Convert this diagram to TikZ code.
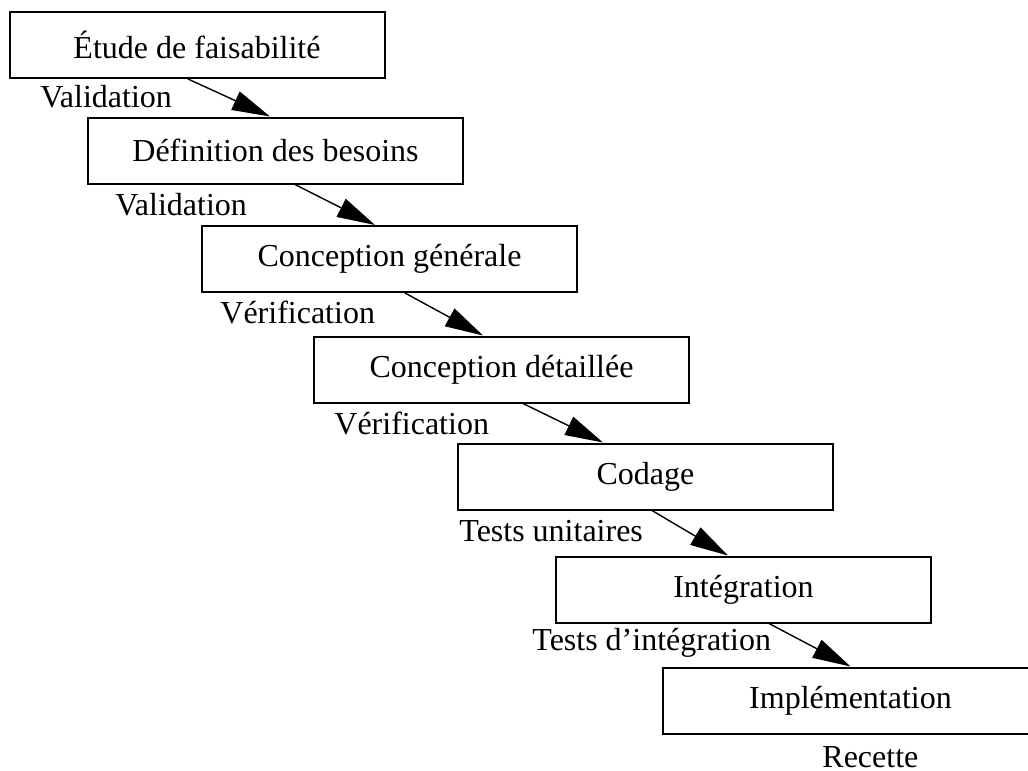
\documentclass[tikz,border=0pt]{standalone}
\usepackage{fontspec}
\setmainfont{Liberation Serif}
\usetikzlibrary{arrows.meta,calc}

\begin{document}
\begin{tikzpicture}[x=0.5pt,y=-0.5pt,
  phase/.style={draw=black,line width=1pt,rectangle,minimum width=187.5pt,
    minimum height=33pt,inner sep=0pt,font=\fontsize{16}{19}\selectfont},
  gate/.style={anchor=base west,inner sep=0pt,font=\fontsize{16}{19}\selectfont},
  flow/.style={line width=0.7pt,-{Triangle[length=19pt,width=10pt]}}]

  \clip (0,0) rectangle (1028,771);

  % phases of the waterfall
  \node[phase] (e1) at (197,45)    {Étude de faisabilité};
  \node[phase] (e2) at (275.5,150.5) {Définition des besoins};
  \node[phase] (e3) at (389.5,259)   {Conception générale};
  \node[phase] (e4) at (501.5,369.5) {Conception détaillée};
  \node[phase] (e5) at (645.5,476.5) {Codage};
  \node[phase] (e6) at (743.5,589.5) {Intégration};
  \node[phase] (e7) at (850.5,700.5) {Implémentation};

  % checks closing each phase
  \node[gate] (l1) at (40,107)  {Validation};
  \node[gate] (l2) at (115,215) {Validation};
  \node[gate] (l3) at (220,323) {Vérification};
  \node[gate] (l4) at (334,434) {Vérification};
  \node[gate] (l5) at (459,541) {Tests unitaires};
  \node[gate] (l6) at (532,650) {Tests d’intégration};
  \node[gate] (l7) at (822,767) {Recette};

  % transitions between phases
  \draw[flow] ($(e1.south)+(-9,0)$)   -- ($(e2.north)+(-5.5,0)$);
  \draw[flow] ($(e2.south)+(19.5,0)$) -- ($(e3.north)+(-14.5,0)$);
  \draw[flow] ($(e3.south)+(15.5,0)$) -- ($(e4.north)+(-18.5,0)$);
  \draw[flow] ($(e4.south)+(21.5,0)$) -- ($(e5.north)+(-42.5,0)$);
  \draw[flow] ($(e5.south)+(6.5,0)$)  -- ($(e6.north)+(-15.5,0)$);
  \draw[flow] ($(e6.south)+(25.5,0)$) -- ($(e7.north)+(0,0)$);
\end{tikzpicture}
\end{document}
